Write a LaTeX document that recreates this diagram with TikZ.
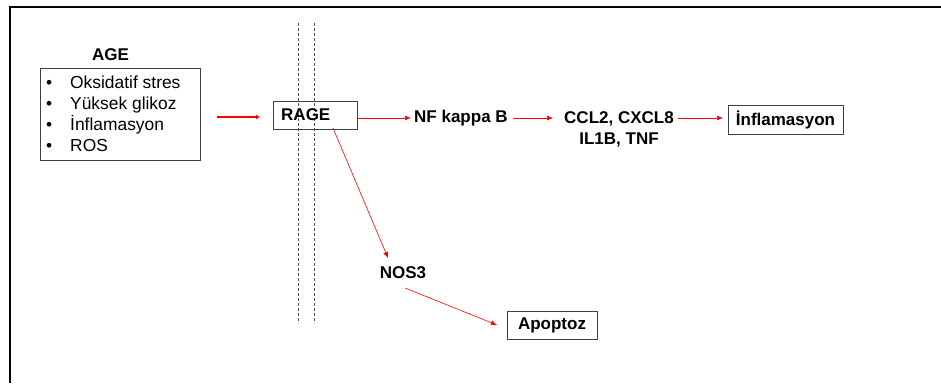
\documentclass[tikz,border=0pt]{standalone}
\usepackage{fontspec}
\setmainfont{Liberation Sans}
\usetikzlibrary{arrows.meta}
\tikzset{
  lbl/.style={inner sep=0pt, font=\fontsize{17}{20}\selectfont\bfseries},
  boxed/.style={draw=black!75, line width=0.9pt, inner sep=0pt, font=\fontsize{17}{20}\selectfont\bfseries},
  redarrow/.style={draw=red, line width=0.6pt, -{Latex[length=6pt,width=5pt]}},
  divider/.style={draw=black!70, line width=0.6pt, dash pattern=on 3pt off 2pt},
}
\begin{document}
\begin{tikzpicture}[x=1pt,y=-1pt]
\useasboundingbox (0,0) rectangle (941,383);
% frame
\draw[line width=2.2pt] (10,383) -- (10,7) -- (941,7);
% membrane dashed lines
\coordinate (d1t) at (298,23); \coordinate (d1b) at (298,323);
\coordinate (d2t) at (314,23); \coordinate (d2b) at (314,323);
\draw[divider] (d1t) -- (d1b);
\draw[divider] (d2t) -- (d2b);
% AGE
\node[lbl] (age) at (110.5,55) {AGE};
\node[draw=black!75, line width=0.9pt, minimum width=160pt, minimum height=92pt, anchor=north west] (list) at (40,68) {};
\node[anchor=west, inner sep=0pt, font=\fontsize{17.4}{21}\selectfont, align=left] (items) at (45,114)
  {\makebox[25pt][l]{\hspace{1pt}•}Oksidatif stres\\ \makebox[25pt][l]{\hspace{1pt}•}Yüksek glikoz\\ \makebox[25pt][l]{\hspace{1pt}•}İnflamasyon\\ \makebox[25pt][l]{\hspace{1pt}•}ROS};
% RAGE
\node[boxed, minimum width=84pt, minimum height=28pt, anchor=north west] (rage) at (273,101) {};
\node[lbl, anchor=west] (ragetxt) at (281,115) {RAGE};
\coordinate (agearrs) at (217,117);
\coordinate (agearre) at (260,117);
\draw[draw=red, line width=2.6pt, -{Latex[length=4pt,width=5pt]}] (agearrs) -- (agearre);
% NF kappa B
\node[lbl, anchor=west] (nfkb) at (414,118) {NF kappa B};
\node[lbl, align=center, font=\fontsize{17}{21}\selectfont\bfseries] (ccl) at (619,129.5) {CCL2, CXCL8\\IL1B, TNF};
\node[boxed, minimum width=115pt, minimum height=29pt] (infl) at (785.5,119.5) {İnflamasyon};
\coordinate (ragee) at (357,118);
\coordinate (nfw) at (411,118);
\draw[redarrow] (ragee) -- (nfw);
\coordinate (nfe) at (513,118);
\coordinate (cclw) at (553,118);
\draw[redarrow] (nfe) -- (cclw);
\coordinate (ccle) at (678,118);
\coordinate (inflw) at (723,118);
\draw[redarrow] (ccle) -- (inflw);
% NOS3 / Apoptoz
\node[lbl] (nos3) at (403,273) {NOS3};
\node[boxed, minimum width=90pt, minimum height=28pt] (apop) at (552,325) {Apoptoz};
\coordinate (rs) at (333,128);
\coordinate (ne) at (388,258);
\draw[redarrow] (rs) -- (ne);
\coordinate (ns) at (405,288);
\coordinate (ae) at (497,325);
\draw[redarrow] (ns) -- (ae);
\end{tikzpicture}
\end{document}
